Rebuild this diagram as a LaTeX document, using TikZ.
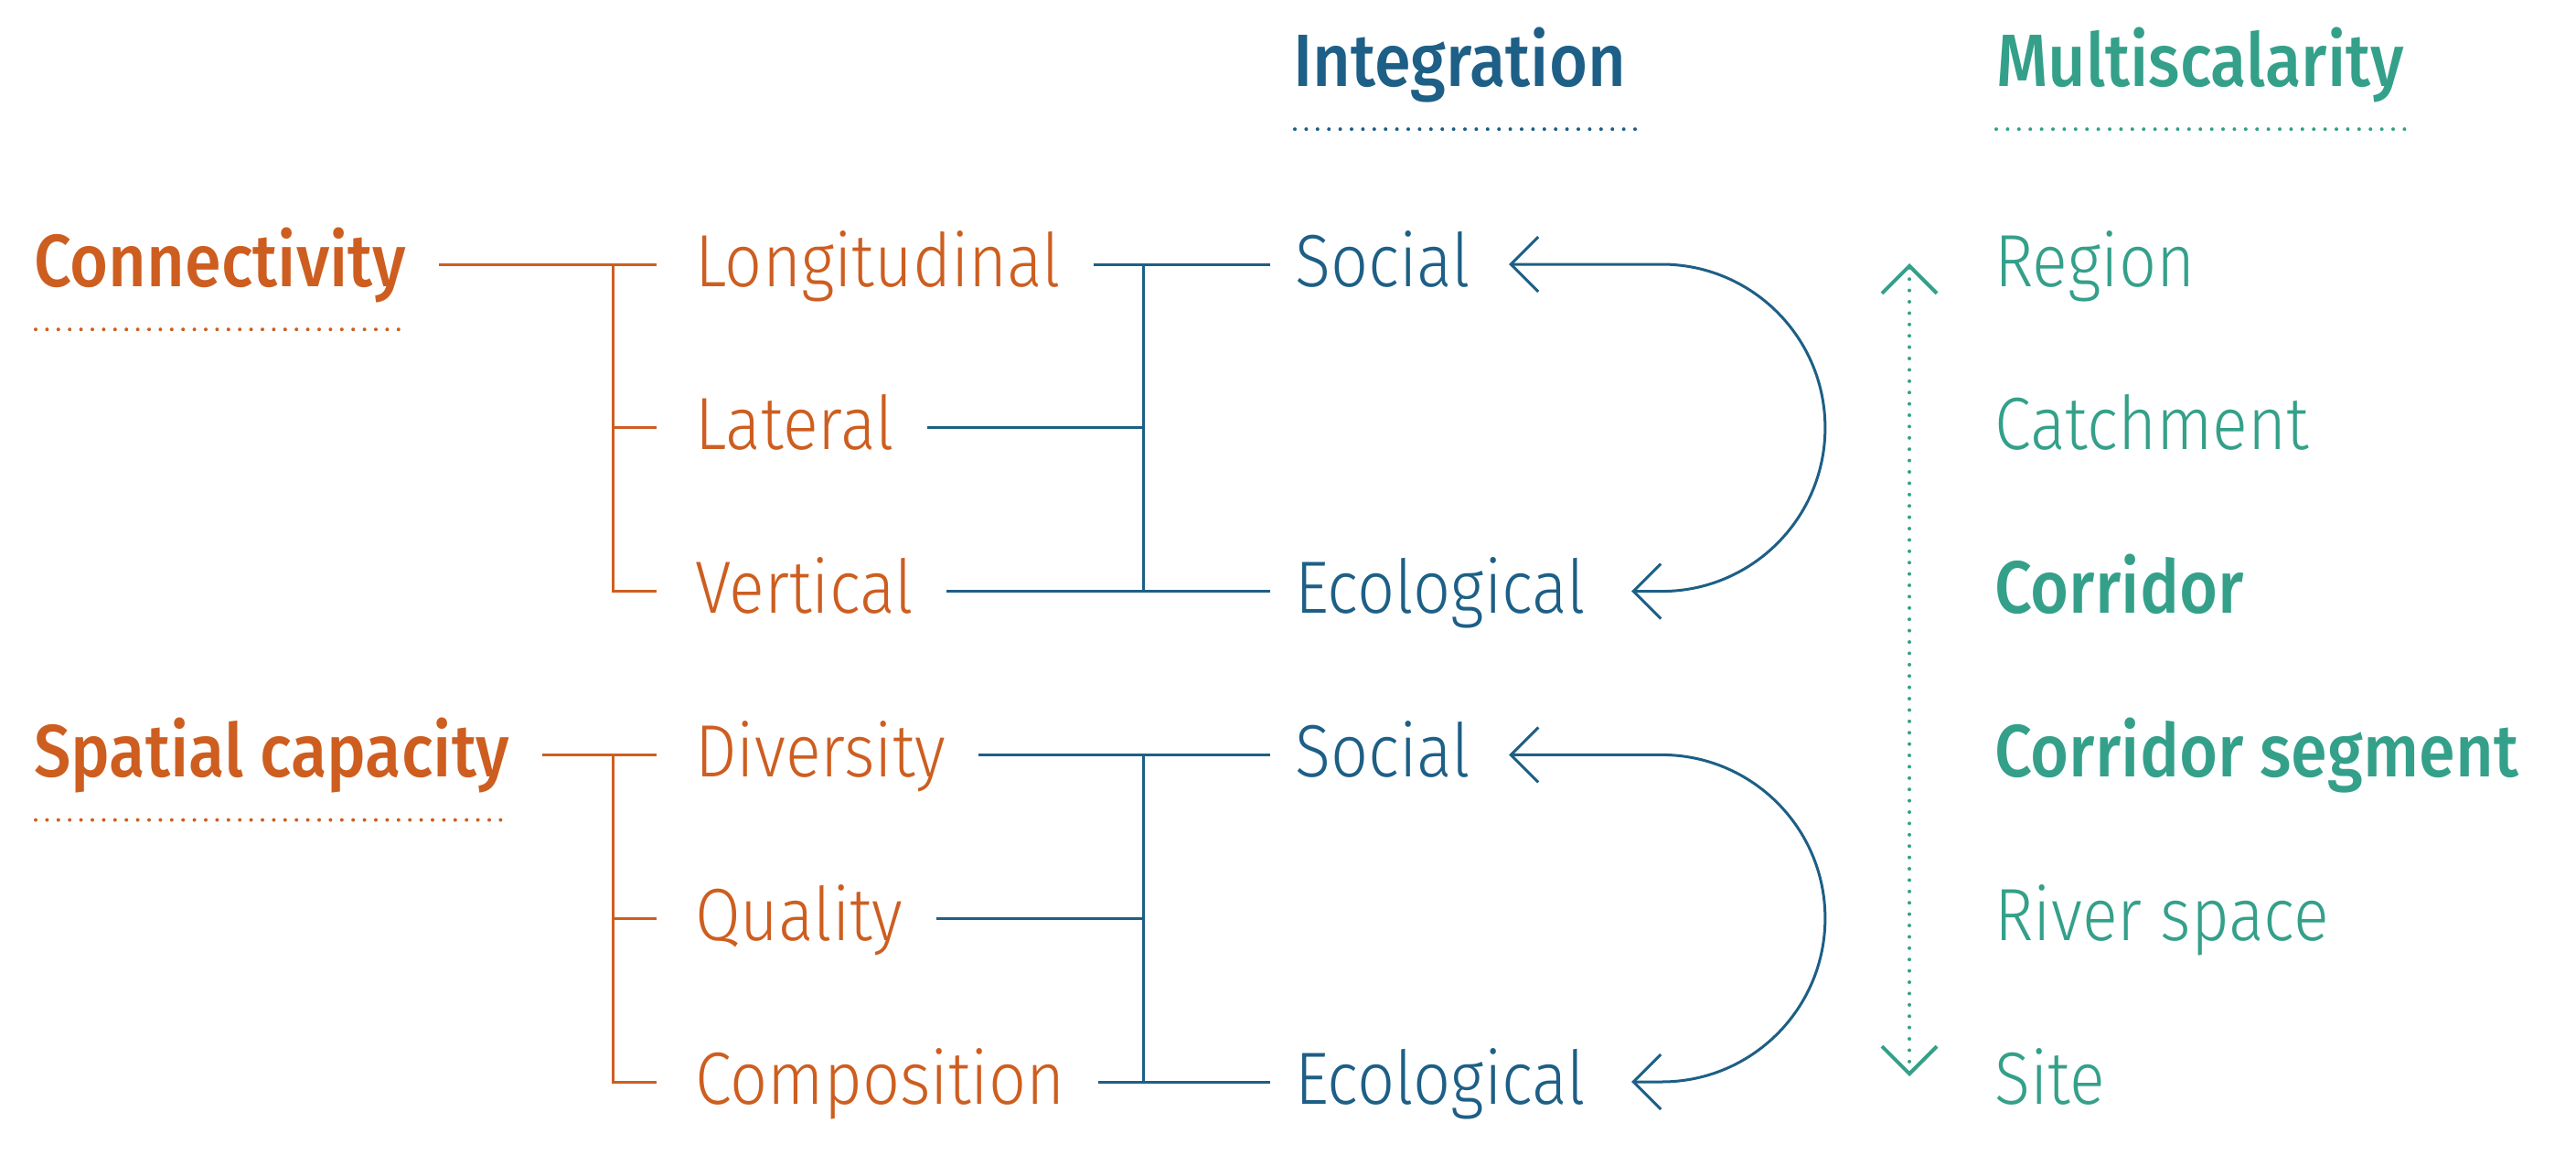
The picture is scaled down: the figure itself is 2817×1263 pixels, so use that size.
\documentclass[tikz,border=0pt]{standalone}
\usepackage{fontspec}
\setmainfont{Fira Sans}[UprightFont=* Light, BoldFont=* Medium, FakeStretch=0.89]
\usetikzlibrary{arrows.meta,calc}
\definecolor{corange}{RGB}{205,94,32}
\definecolor{cblue}{RGB}{29,95,134}
\definecolor{cteal}{RGB}{52,160,138}
\begin{document}
\begin{tikzpicture}[x=1pt,y=-1pt,
  lbl/.style={inner sep=0pt, anchor=west, text height=68pt, text depth=20pt, font=\fontsize{81}{97}\selectfont},
  hd/.style={lbl, font=\fontsize{81}{97}\selectfont\bfseries},
  otxt/.style={text=corange},
  btxt/.style={text=cblue},
  ttxt/.style={text=cteal},
  oline/.style={draw=corange, line width=3pt},
  bline/.style={draw=cblue, line width=3pt},
  dots/.style={line width=4pt, line cap=round, dash pattern=on 0pt off 12.4pt},
  barrow/.style={draw=cblue, line width=3pt, arrows={Straight Barb[length=30pt,width=60pt]-Straight Barb[length=30pt,width=60pt]}},
  tarrow/.style={draw=cteal, dots, arrows={Straight Barb[length=30pt,width=60pt,line width=4pt]-Straight Barb[length=30pt,width=60pt,line width=4pt]}}
]
\useasboundingbox (0,0) rectangle (2817,1263);
% headers
\node[hd,btxt] (integ) at (1414,70) {Integration};
\node[hd,ttxt] (multi) at (2183,70) {Multiscalarity};
% column 1
\node[hd,otxt] (conn) at (37,289) {Connectivity};
\node[hd,otxt] (spat) at (37,825.4) {Spatial capacity};
% column 2
\node[lbl,otxt] (lon) at (760,289) {Longitudinal};
\node[lbl,otxt] (lat) at (760,467.8) {Lateral};
\node[lbl,otxt] (ver) at (760,646.6) {Vertical};
\node[lbl,otxt] (div) at (760,825.4) {Diversity};
\node[lbl,otxt] (qua) at (760,1004.2) {Quality};
\node[lbl,otxt] (com) at (760,1183) {Composition};
% column 3
\node[lbl,btxt] (soc1) at (1416,289) {Social};
\node[lbl,btxt] (eco1) at (1416,646.6) {Ecological};
\node[lbl,btxt] (soc2) at (1416,825.4) {Social};
\node[lbl,btxt] (eco2) at (1416,1183) {Ecological};
% column 4
\node[lbl,ttxt] (reg) at (2181,289) {Region};
\node[lbl,ttxt] (cat) at (2181,467.8) {Catchment};
\node[hd,ttxt] (cor) at (2181,646.6) {Corridor};
\node[hd,ttxt] (seg) at (2181,825.4) {Corridor segment};
\node[lbl,ttxt] (riv) at (2181,1004.2) {River space};
\node[lbl,ttxt] (site) at (2181,1183) {Site};
% dotted underlines
\draw[dots,draw=corange] ($(conn.south west)+(2,27)$) -- ($(conn.south east)+(0,27)$);
\draw[dots,draw=corange] ($(spat.south west)+(2,27)$) -- ($(spat.south east)+(0,27)$);
\draw[dots,draw=cblue] ($(integ.south west)+(2,27)$) -- ($(integ.south east)+(14,27)$);
\draw[dots,draw=cteal] ($(multi.south west)+(0,27)$) -- ($(multi.south east)+(9,27)$);
% orange connectors, group 1
\draw[oline] ($(conn.east)+(36,0)$) -- ($(lon.west)+(-42,0)$);
\draw[oline] ($(lon.west)+(-90,0)$) |- ($(ver.west)+(-42,0)$);
\draw[oline] ($(lat.west)+(-90,0)$) -- ($(lat.west)+(-42,0)$);
% orange connectors, group 2
\draw[oline] ($(spat.east)+(36,0)$) -- ($(div.west)+(-42,0)$);
\draw[oline] ($(div.west)+(-90,0)$) |- ($(com.west)+(-42,0)$);
\draw[oline] ($(qua.west)+(-90,0)$) -- ($(qua.west)+(-42,0)$);
% blue connectors, group 1
\draw[bline] ($(lon.east)+(36,0)$) -- ($(soc1.west)+(-27,0)$);
\draw[bline] ($(ver.east)+(36,0)$) -- ($(eco1.west)+(-27,0)$);
\draw[bline] ($(soc1.west)+(-166,0)$) -- ($(eco1.west)+(-166,0)$);
\draw[bline] ($(lat.east)+(36,0)$) -- ($(soc1.west |- lat.west)+(-166,0)$);
% blue connectors, group 2
\draw[bline] ($(div.east)+(36,0)$) -- ($(soc2.west)+(-27,0)$);
\draw[bline] ($(com.east)+(36,0)$) -- ($(eco2.west)+(-27,0)$);
\draw[bline] ($(soc2.west)+(-166,0)$) -- ($(eco2.west)+(-166,0)$);
\draw[bline] ($(qua.east)+(36,0)$) -- ($(soc2.west |- qua.west)+(-166,0)$);
% feedback arrows
\draw[barrow] ($(soc1.east)+(42,0)$) -- ($(soc1.east)+(209,0)$) arc[start angle=90,end angle=-90,radius=178.8pt] -- ($(eco1.east)+(50,0)$);
\draw[barrow] ($(soc2.east)+(42,0)$) -- ($(soc2.east)+(209,0)$) arc[start angle=90,end angle=-90,radius=178.8pt] -- ($(eco2.east)+(50,0)$);
% scale arrow
\coordinate (vt) at (2088,288);
\coordinate (vb) at (2088,1177);
\draw[tarrow] (vt) -- (vb);
\end{tikzpicture}
\end{document}
